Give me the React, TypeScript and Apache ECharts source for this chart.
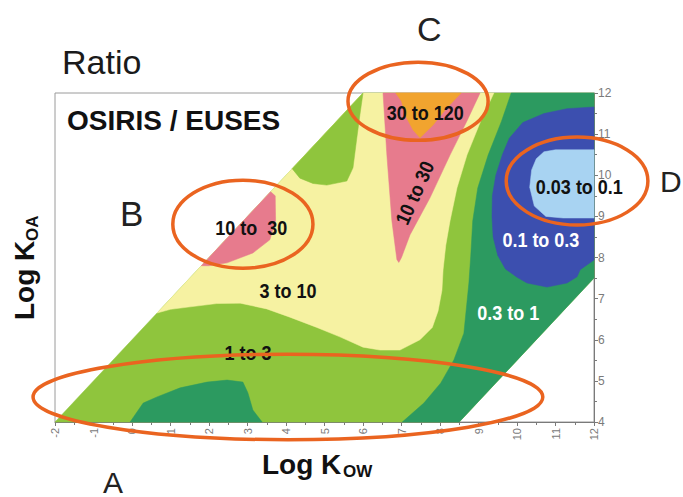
import React, { useEffect, useRef } from "react";
import * as echarts from "echarts";

// Axis ranges (log Kow on x, log Koa on y)
const X_MIN = -2;
const X_MAX = 12;
const Y_MIN = 4;
const Y_MAX = 12;

// Contour regions: [log Kow, log Koa] vertices
const domainRegion = [[-2, 4], [8.5, 4], [12, 7.5], [12, 12], [6, 12]]; // "1 to 3" background
const region03to1 = [
  [9.85, 12], [9.6, 11.32], [9.25, 10.49], [8.98, 9.69], [8.85, 8.89], [8.8, 8.06], [8.75, 7.38],
  [8.62, 6.16], [8.36, 5.51], [8.02, 4.95], [7.58, 4.46], [7.02, 4], [8.5, 4], [12, 7.5], [12, 12],
];
const region03to1Bottom = [
  [-0.05, 4], [0.29, 4.46], [0.65, 4.61], [1.25, 4.83], [1.95, 4.97], [2.47, 5.02], [2.88, 4.97],
  [3.01, 4.71], [3.14, 4.29], [3.38, 4],
];
const region3to10 = [
  [0.65, 6.65], [1.0, 6.74], [1.51, 6.8], [2.2, 6.88], [2.81, 6.89], [3.5, 6.75], [4.1, 6.55],
  [4.8, 6.3], [5.4, 6.07], [6.0, 5.82], [6.44, 5.75], [6.96, 5.75], [7.48, 6.0], [7.8, 6.3],
  [7.95, 6.7], [8.05, 7.2], [8.08, 7.7], [8.15, 8.3], [8.26, 8.89], [8.44, 9.69], [8.7, 10.49],
  [9.05, 11.3], [9.4, 12], [6, 12],
];
const region1to3Patch = [
  [4.16, 10.16], [4.36, 9.93], [4.7, 9.8], [5.06, 9.76], [5.58, 9.86], [5.74, 10.18], [5.84, 10.91],
  [5.92, 11.47], [6.0, 12],
];
const region10to30B = [
  [1.8, 7.8], [3.6, 9.6], [3.72, 9.5], [3.73, 8.9], [3.58, 8.43], [3.14, 8.11], [2.47, 7.87], [2.0, 7.8],
];
const region10to30C = [
  [6.52, 12], [6.62, 10.49], [6.75, 8.89], [6.88, 7.95], [6.93, 7.88], [7.0, 8.0], [7.22, 8.55],
  [7.74, 9.45], [8.26, 10.49], [8.7, 11.32], [9.04, 12],
];
const region30to120 = [
  [6.85, 12], [8.55, 12], [8.18, 11.64], [7.82, 11.22], [7.48, 10.91], [7.3, 11.1], [7.1, 11.45], [7.0, 11.8],
];
const region01to03 = [
  [12, 11.66], [11.3, 11.62], [10.7, 11.5], [10.15, 11.28], [9.8, 10.9], [9.62, 10.5], [9.45, 10.0],
  [9.36, 9.5], [9.35, 9.0], [9.38, 8.5], [9.5, 8.05], [9.7, 7.72], [10.0, 7.52], [10.26, 7.38],
  [10.78, 7.28], [11.3, 7.38], [11.56, 7.53], [11.64, 7.7], [12, 7.94],
];
const region003to01 = [
  [12, 10.62], [11.0, 10.62], [10.7, 10.57], [10.5, 10.4], [10.38, 10.13], [10.33, 9.71], [10.45, 9.25],
  [10.75, 9.0], [11.2, 8.96], [12, 8.96],
];

// Region labels
const labelTexts = ["10 to  30", "30 to 120", "10 to 30", "0.03 to 0.1", "0.1 to 0.3", "3 to 10", "1 to 3", "0.3 to 1"];
const labelPos = [[3.1, 8.72], [7.62, 11.51], [7.35, 9.57], [11.62, 9.71], [10.62, 8.43], [4.05, 7.19], [3.01, 5.68], [9.77, 6.65]];
const labelWhite = [false, false, false, false, true, false, false, true];
const labelRotation = [0, 0, 1.15, 0, 0, 0, 0, 0];

// Highlight ellipses: centre and radii in axis units
const ellipseCentres = [[4.05, 4.61], [2.88, 8.81], [7.43, 11.8], [11.56, 9.86]];
const ellipseRadii = [[6.62, 1.04], [1.82, 1.07], [1.82, 0.95], [1.84, 1.07]];

const LIME = "#8fc53d";
const YELLOW = "#f6f2a2";
const PINK = "#e77b8d";
const ORANGE = "#f1a42f";
const TEAL = "#2c9a60";
const BLUE = "#3c4faf";
const LIGHTBLUE = "#a8d3f2";
const RING = "#ea6420";

const layers = [
  { pts: domainRegion, color: LIME },
  { pts: region03to1, color: TEAL },
  { pts: region03to1Bottom, color: TEAL },
  { pts: region3to10, color: YELLOW },
  { pts: region1to3Patch, color: LIME },
  { pts: region10to30B, color: PINK },
  { pts: region10to30C, color: PINK },
  { pts: region30to120, color: ORANGE },
  { pts: region01to03, color: BLUE },
  { pts: region003to01, color: LIGHTBLUE },
];

const LABEL_FONT = "'Liberation Sans', Arial, sans-serif";

export default function App() {
  const ref = useRef<HTMLDivElement>(null);
  useEffect(() => {
    if (!ref.current) return;
    const chart = echarts.init(ref.current, null, { renderer: "svg" });
    const axisCommon = {
      type: "value",
      axisLine: { show: true, onZero: false, lineStyle: { color: "#7a7a7a", width: 1 } },
      axisTick: { show: true, length: 4, lineStyle: { color: "#7a7a7a" } },
      minorTick: { show: true, splitNumber: 2, length: 3, lineStyle: { color: "#7a7a7a" } },
      splitLine: { show: false },
      minorSplitLine: { show: false },
    };
    chart.setOption({
      animation: false,
      backgroundColor: "#ffffff",
      grid: { left: 55, top: 93, width: 539, height: 329, show: true, borderColor: "#9a9a9a", borderWidth: 1 },
      xAxis: {
        ...axisCommon,
        min: X_MIN,
        max: X_MAX,
        interval: 1,
        position: "bottom",
        axisLabel: { rotate: 90, fontSize: 11, color: "#7a7a7a", margin: 6, fontFamily: LABEL_FONT },
      },
      yAxis: {
        ...axisCommon,
        min: Y_MIN,
        max: Y_MAX,
        interval: 1,
        position: "right",
        axisLabel: { fontSize: 12, color: "#7a7a7a", margin: 4, fontFamily: LABEL_FONT },
      },
      series: [
        {
          type: "custom",
          name: "regions",
          coordinateSystem: "cartesian2d",
          clip: false,
          z: 2,
          data: layers.map((_, i) => [i, Y_MIN]),
          renderItem: (params: any, api: any) => {
            const layer = layers[params.dataIndex];
            return {
              type: "polygon",
              shape: { points: layer.pts.map((p) => api.coord(p)) },
              style: { fill: layer.color, stroke: layer.color, lineWidth: 0.5 },
            };
          },
        },
        {
          type: "custom",
          name: "labels",
          coordinateSystem: "cartesian2d",
          clip: false,
          z: 5,
          data: labelTexts.map((_, i) => [labelPos[i][0], labelPos[i][1]]),
          renderItem: (params: any, api: any) => {
            const i = params.dataIndex;
            const p = api.coord(labelPos[i]);
            return {
              type: "text",
              x: p[0],
              y: p[1],
              rotation: labelRotation[i],
              scaleX: 0.9,
              style: {
                text: labelTexts[i],
                fill: labelWhite[i] ? "#ffffff" : "#111111",
                fontSize: 20,
                fontWeight: "bold",
                fontFamily: LABEL_FONT,
                align: "center",
                verticalAlign: "middle",
              },
            };
          },
        },
        {
          type: "custom",
          name: "rings",
          coordinateSystem: "cartesian2d",
          clip: false,
          z: 10,
          data: ellipseCentres.map((c) => [c[0], c[1]]),
          renderItem: (params: any, api: any) => {
            const i = params.dataIndex;
            const c = api.coord(ellipseCentres[i]);
            const s = api.size(ellipseRadii[i]);
            return {
              type: "ellipse",
              shape: { cx: c[0], cy: c[1], rx: s[0], ry: s[1] },
              style: { fill: "none", stroke: RING, lineWidth: 3.5 },
            };
          },
        },
      ],
      graphic: [
        { type: "text", left: 62, top: 45, style: { text: "Ratio", fontSize: 34, fontFamily: LABEL_FONT, fill: "#1a1a1a" } },
        { type: "text", left: 67, top: 106, style: { text: "OSIRIS / EUSES", fontSize: 28, fontWeight: "bold", fontFamily: LABEL_FONT, fill: "#111" } },
        { type: "text", left: 417, top: 12, style: { text: "C", fontSize: 34, fontFamily: LABEL_FONT, fill: "#222" } },
        { type: "text", left: 120, top: 196, style: { text: "B", fontSize: 35, fontFamily: LABEL_FONT, fill: "#222" } },
        { type: "text", left: 660, top: 166, style: { text: "D", fontSize: 30, fontFamily: LABEL_FONT, fill: "#222" } },
        { type: "text", left: 103, top: 467, style: { text: "A", fontSize: 30, fontFamily: LABEL_FONT, fill: "#222" } },
        { type: "text", left: 262, top: 450, style: { text: "Log K", fontSize: 28, fontWeight: "bold", fontFamily: LABEL_FONT, fill: "#111" } },
        { type: "text", left: 343, top: 463, style: { text: "OW", fontSize: 17, fontWeight: "bold", fontFamily: LABEL_FONT, fill: "#111" } },
        {
          type: "group",
          x: 24,
          y: 320,
          rotation: Math.PI / 2,
          children: [
            { type: "text", x: 0, y: 0, style: { text: "Log K", fontSize: 28, fontWeight: "bold", fontFamily: LABEL_FONT, fill: "#111", align: "left", verticalAlign: "middle" } },
            { type: "text", x: 79, y: 8, style: { text: "OA", fontSize: 17, fontWeight: "bold", fontFamily: LABEL_FONT, fill: "#111", align: "left", verticalAlign: "middle" } },
          ],
        },
      ],
    });
    return () => chart.dispose();
  }, []);
  return (
    <div
      ref={ref}
      style={{ position: "fixed", left: 0, top: 0, width: 683, height: 497, background: "#fff" }}
    />
  );
}
